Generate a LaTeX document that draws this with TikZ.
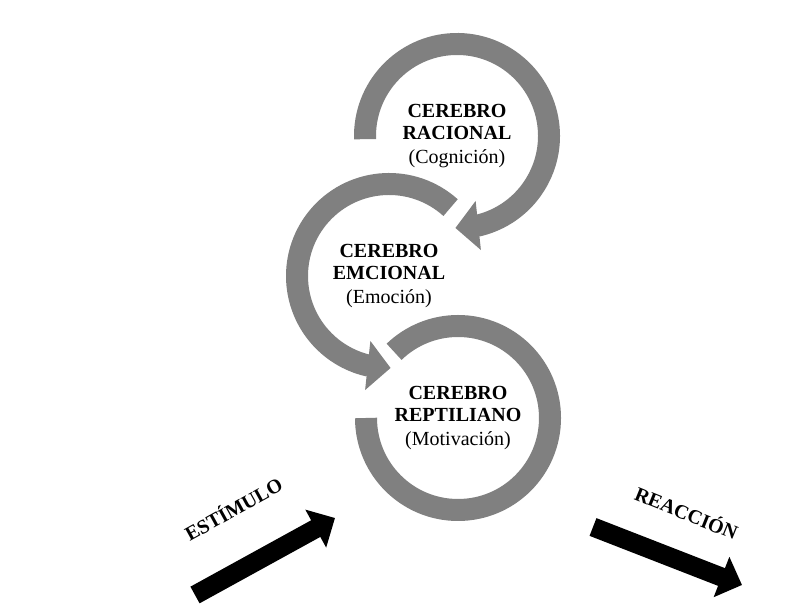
\documentclass[tikz,border=0pt]{standalone}
\usepackage{fontspec}
\setmainfont{Liberation Serif}
\usetikzlibrary{arrows.meta,bending}

\begin{document}
\begin{tikzpicture}[x=0.5pt, y=0.5pt, ring/.style={line width=11pt, draw=black!50}, ringtip/.style={ring, -{Triangle[length=11.5pt, width=24pt, flex]}}, brain/.style={align=center, font=\fontsize{10}{11}\selectfont}, push/.style={line width=9.5pt, -{Triangle[length=11pt, width=21pt]}}, tag/.style={font=\bfseries\fontsize{10}{12}\selectfont}]
			\useasboundingbox[fill=white] (0,0) rectangle (802,614);
			\node[brain] (racional) at (457,478) {\textbf{CEREBRO}\\\textbf{RACIONAL}\\[1pt](Cognición)};
			\node[brain] (emocional) at (389,338) {\textbf{CEREBRO}\\\textbf{EMCIONAL}\\[1pt](Emoción)};
			\node[brain] (reptiliano) at (458,196) {\textbf{CEREBRO}\\\textbf{REPTILIANO}\\[1pt](Motivación)};
			\draw[ringtip] ([shift={(182:92)}]racional.center) arc[start angle=182, end angle=-91, radius=92];
			\draw[ringtip] ([shift={(48:92)}]emocional.center) arc[start angle=48, end angle=271, radius=92];
			\draw[ring] ([shift={(180:92)}]reptiliano.center) arc[start angle=180, end angle=494, radius=92];
			\coordinate (stimtail) at (195,19);
			\coordinate (stimtip) at (335,96);
			\coordinate (reacttail) at (593,87);
			\coordinate (reacttip) at (742,29);
			\draw[push] (stimtail) -- (stimtip);
			\draw[push] (reacttail) -- (reacttip);
			\node[tag, rotate=29] (estimulo) at (233,106) {ESTÍMULO};
			\node[tag, rotate=-22] (reaccion) at (687,102) {REACCIÓN};
\end{tikzpicture}
\end{document}
